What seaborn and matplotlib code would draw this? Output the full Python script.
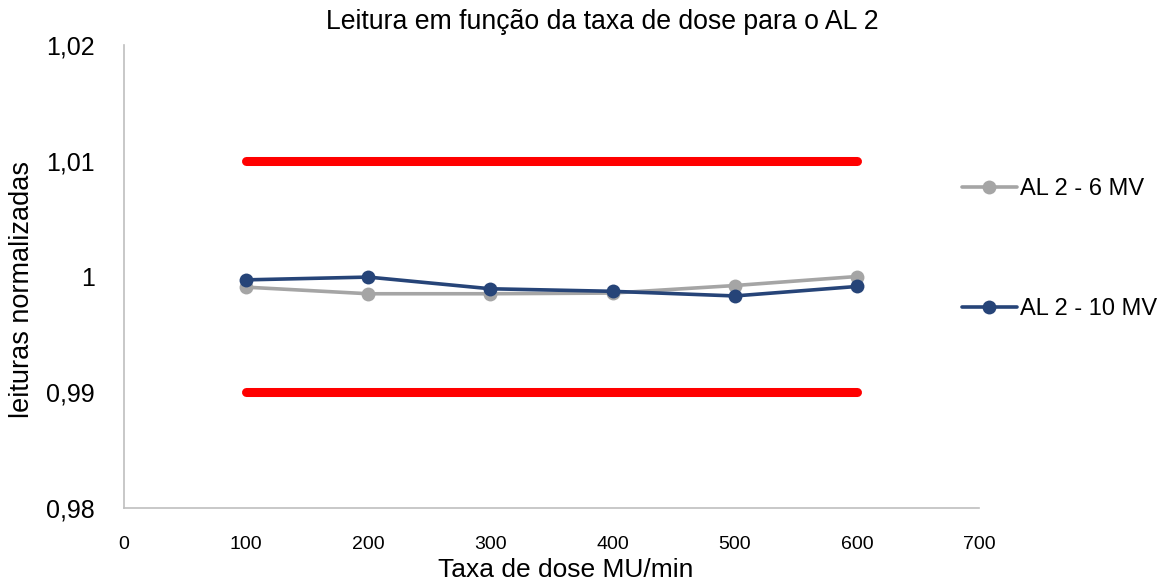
import matplotlib
matplotlib.use("Agg")
import matplotlib.pyplot as plt
import seaborn as sns
import pandas as pd

rates = [100, 200, 300, 400, 500, 600]
al2_6mv = [0.99908, 0.99851, 0.99851, 0.99857, 0.99922, 1.0000]
al2_10mv = [0.99971, 0.99995, 0.99894, 0.99872, 0.99832, 0.99914]
upper_limit = [1.01, 1.01]
lower_limit = [0.99, 0.99]
limit_x = [100, 600]
series_names = ["AL 2 - 6 MV", "AL 2 - 10 MV"]
y_ticks = [0.98, 0.99, 1.00, 1.01, 1.02]
y_tick_labels = ["0,98", "0,99", "1", "1,01", "1,02"]
x_ticks = [0, 100, 200, 300, 400, 500, 600, 700]

sns.set_theme(style="white")
plt.rcParams['font.family'] = ['Liberation Sans', 'DejaVu Sans']
plt.rcParams['text.color'] = 'black'
plt.rcParams['axes.labelcolor'] = 'black'
plt.rcParams['xtick.color'] = 'black'
plt.rcParams['ytick.color'] = 'black'

df = pd.DataFrame({
    "rate": rates * 2,
    "value": al2_6mv + al2_10mv,
    "series": [series_names[0]] * 6 + [series_names[1]] * 6,
})
lim = pd.DataFrame({
    "x": limit_x * 2,
    "y": upper_limit + lower_limit,
    "which": ["up", "up", "low", "low"],
})

fig = plt.figure(figsize=(11.74, 5.86), dpi=100)
ax = fig.add_axes([0.1056, 0.1331, 0.834 - 0.1056, 0.9232 - 0.1331])

sns.lineplot(data=lim, x="x", y="y", units="which", estimator=None,
             color="#FF0000", linewidth=6.5, ax=ax, legend=False,
             solid_capstyle="round")
sns.lineplot(data=df, x="rate", y="value", hue="series",
             palette={series_names[0]: "#A5A5A5", series_names[1]: "#264478"},
             marker="o", markersize=10, markeredgewidth=0, linewidth=2.6,
             ax=ax, legend=True)

ax.set_xlim(0, 700)
ax.set_ylim(0.98, 1.02)
ax.set_xticks(x_ticks)
ax.set_xticklabels([str(v) for v in x_ticks], fontsize=14)
ax.set_yticks(y_ticks)
ax.set_yticklabels(y_tick_labels, fontsize=18)
ax.tick_params(axis='both', length=0, colors="#000000")
ax.tick_params(axis='x', pad=20)
ax.tick_params(axis='y', pad=21)
for s in ["top", "right"]:
    ax.spines[s].set_visible(False)
for s in ["left", "bottom"]:
    ax.spines[s].set_color("#BFBFBF")
    ax.spines[s].set_linewidth(1.2)
ax.grid(False)

ax.set_xlabel("Taxa de dose MU/min", fontsize=19)
ax.xaxis.set_label_coords(0.516, -0.108)
ax.set_ylabel("leituras normalizadas", fontsize=19.5)
ax.yaxis.set_label_coords(-0.104, 0.473)
fig.text(0.513, 0.962, "Leitura em função da taxa de dose para o AL 2", ha="center",
         va="center", fontsize=19.2)

handles, labels = ax.get_legend_handles_labels()
ax.legend_.remove()
fig.legend(handles, labels, loc="upper left", bbox_to_anchor=(0.8016, 0.732),
           frameon=False, fontsize=17, labelspacing=4.15, handlelength=2.3,
           handletextpad=0.15)

fig.savefig("out.png", dpi=100)
